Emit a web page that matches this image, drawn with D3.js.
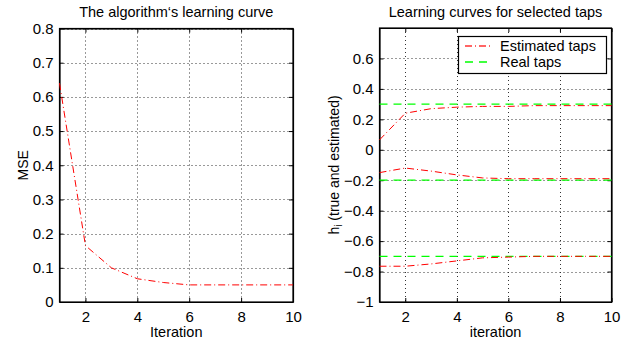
<!DOCTYPE html>
<html>
<head>
<meta charset="utf-8">
<script src="https://cdn.jsdelivr.net/npm/d3@7"></script>
<style>
body { margin: 0; background: #fff; }
text { font-family: "Liberation Sans", Arial, sans-serif; fill: #000; }
</style>
</head>
<body>
<div id="chart"></div>
<script>
var iterations = [1, 2, 3, 4, 5, 6, 7, 8, 9, 10];
var mse = [0.64, 0.165, 0.10, 0.068, 0.057, 0.050, 0.050, 0.050, 0.050, 0.050];
var tapEst1 = [0.065, 0.24, 0.27, 0.28, 0.285, 0.285, 0.29, 0.29, 0.29, 0.29];
var tapEst2 = [-0.15, -0.12, -0.14, -0.165, -0.185, -0.19, -0.19, -0.19, -0.19, -0.19];
var tapEst3 = [-0.765, -0.765, -0.75, -0.73, -0.71, -0.705, -0.70, -0.70, -0.70, -0.70];
var tapReal = [0.3, -0.2, -0.7];
var xTicks = [2, 4, 6, 8, 10];
var mseTicks = [0, 0.1, 0.2, 0.3, 0.4, 0.5, 0.6, 0.7, 0.8];
var tapTicks = [-1, -0.8, -0.6, -0.4, -0.2, 0, 0.2, 0.4, 0.6];

var svg = d3.select("#chart")
    .append("svg")
    .attr("width", 634)
    .attr("height", 348);

function drawPanel(opt) {
    var x = d3.scaleLinear().domain([1, 10]).range([opt.left, opt.right]);
    var y = d3.scaleLinear().domain(opt.yDomain).range([opt.bottom, opt.top]);
    var g = svg.append("g");

    //网格
    g.selectAll("line.gx")
        .data(xTicks.filter(function(t) { return t < 10; }))
        .enter()
        .append("line")
        .attr("class", "gx")
        .attr("x1", function(d) { return Math.round(x(d)) + 0.5; })
        .attr("x2", function(d) { return Math.round(x(d)) + 0.5; })
        .attr("y1", opt.top)
        .attr("y2", opt.bottom)
        .attr("stroke", "#333")
        .attr("stroke-width", 1)
        .attr("stroke-dasharray", "1,3");
    g.selectAll("line.gy")
        .data(opt.yTicks.filter(function(t) { return t > opt.yDomain[0]; }))
        .enter()
        .append("line")
        .attr("class", "gy")
        .attr("x1", opt.left)
        .attr("x2", opt.right)
        .attr("y1", function(d) { return Math.round(y(d)) + 0.5; })
        .attr("y2", function(d) { return Math.round(y(d)) + 0.5; })
        .attr("stroke", "#333")
        .attr("stroke-width", 1)
        .attr("stroke-dasharray", "1,3");

    //坐标轴
    var xAxis = d3.axisBottom(x).tickValues(xTicks).tickSizeInner(-4).tickSizeOuter(0).tickPadding(9);
    var yAxis = d3.axisLeft(y).tickValues(opt.yTicks).tickSizeInner(-4).tickSizeOuter(0).tickPadding(6)
        .tickFormat(function(d) { return d < 0 ? "\u2212" + Math.abs(d) : d; });
    g.append("g").attr("transform", "translate(0," + opt.bottom + ")").call(xAxis);
    g.append("g").attr("transform", "translate(" + opt.left + ",0)").call(yAxis);
    g.append("g").attr("transform", "translate(0," + opt.top + ")")
        .call(d3.axisTop(x).tickValues(xTicks).tickSizeInner(-4).tickSizeOuter(0).tickFormat(""));
    g.append("g").attr("transform", "translate(" + opt.right + ",0)")
        .call(d3.axisRight(y).tickValues(opt.yTicks).tickSizeInner(-4).tickSizeOuter(0).tickFormat(""));
    g.selectAll(".domain").attr("stroke", "#000").attr("stroke-width", 1.2);
    g.selectAll(".tick text").style("font-size", "15px").attr("font-family", null);

    g.append("rect")
        .attr("x", opt.left)
        .attr("y", opt.top)
        .attr("width", opt.right - opt.left)
        .attr("height", opt.bottom - opt.top)
        .attr("fill", "none")
        .attr("stroke", "#000")
        .attr("stroke-width", 1.2);

    //标题
    g.append("text")
        .attr("x", (opt.left + opt.right) / 2)
        .attr("y", 17)
        .attr("text-anchor", "middle")
        .style("font-size", "14.5px")
        .text(opt.title);
    g.append("text")
        .attr("x", (opt.left + opt.right) / 2)
        .attr("y", 337)
        .attr("text-anchor", "middle")
        .style("font-size", "14.5px")
        .text(opt.xLabel);
    var yl = g.append("text")
        .attr("transform", "translate(" + opt.yLabelX + "," + ((opt.top + opt.bottom) / 2) + ") rotate(-90)")
        .attr("text-anchor", "middle")
        .style("font-size", "14px");
    yl.append("tspan").text(opt.yLabel[0]);
    if (opt.yLabel.length > 1) {
        yl.append("tspan").attr("dy", 3).style("font-size", "10px").text(opt.yLabel[1]);
        yl.append("tspan").attr("dy", -3).text(opt.yLabel[2]);
    }
    return { g: g, x: x, y: y };
}

var left = drawPanel({
    left: 59.5, right: 293, top: 28.5, bottom: 302,
    yDomain: [0, 0.8], yTicks: mseTicks,
    title: "The algorithm\u2018s learning curve",
    xLabel: "Iteration", yLabel: ["MSE"], yLabelX: 28
});

var right = drawPanel({
    left: 379.5, right: 611.5, top: 28, bottom: 302,
    yDomain: [-1, 0.8], yTicks: tapTicks,
    title: "Learning curves for selected taps",
    xLabel: "iteration", yLabel: ["h", "i", " (true and estimated)"], yLabelX: 339
});

var line = d3.line()
    .x(function(d, i) { return left.x(iterations[i]); })
    .y(function(d) { return left.y(d); });
left.g.append("path")
    .attr("d", line(mse))
    .attr("fill", "none")
    .attr("stroke", "#ff0000")
    .attr("stroke-width", 1)
    .attr("stroke-dasharray", "7,3,1,3");

//真实值
right.g.selectAll("line.real")
    .data(tapReal)
    .enter()
    .append("line")
    .attr("class", "real")
    .attr("x1", right.x(1))
    .attr("x2", right.x(10))
    .attr("y1", function(d) { return right.y(d); })
    .attr("y2", function(d) { return right.y(d); })
    .attr("stroke", "#00ff00")
    .attr("stroke-width", 1.2)
    .attr("stroke-dasharray", "8,6");

var line2 = d3.line()
    .x(function(d, i) { return right.x(iterations[i]); })
    .y(function(d) { return right.y(d); });
right.g.selectAll("path.est")
    .data([tapEst1, tapEst2, tapEst3])
    .enter()
    .append("path")
    .attr("class", "est")
    .attr("d", function(d) { return line2(d); })
    .attr("fill", "none")
    .attr("stroke", "#ff0000")
    .attr("stroke-width", 1)
    .attr("stroke-dasharray", "7,3,1,3");

//图例
var lg = svg.append("g");
lg.append("rect")
    .attr("x", 458.5).attr("y", 36.5)
    .attr("width", 148).attr("height", 37)
    .attr("fill", "#fff")
    .attr("stroke", "#000")
    .attr("stroke-width", 1.2);
var legendItems = [
    { name: "Estimated taps", color: "#ff3333", dash: "7,3,1,3" },
    { name: "Real taps", color: "#00ff00", dash: "8,6" }
];
legendItems.forEach(function(it, i) {
    var yy = 46 + i * 16;
    lg.append("line")
        .attr("x1", 465).attr("x2", 493)
        .attr("y1", yy).attr("y2", yy)
        .attr("stroke", it.color)
        .attr("stroke-width", 1.5)
        .attr("stroke-dasharray", it.dash);
    lg.append("text")
        .attr("x", 500).attr("y", yy + 5)
        .style("font-size", "14.5px")
        .text(it.name);
});
</script>
</body>
</html>
